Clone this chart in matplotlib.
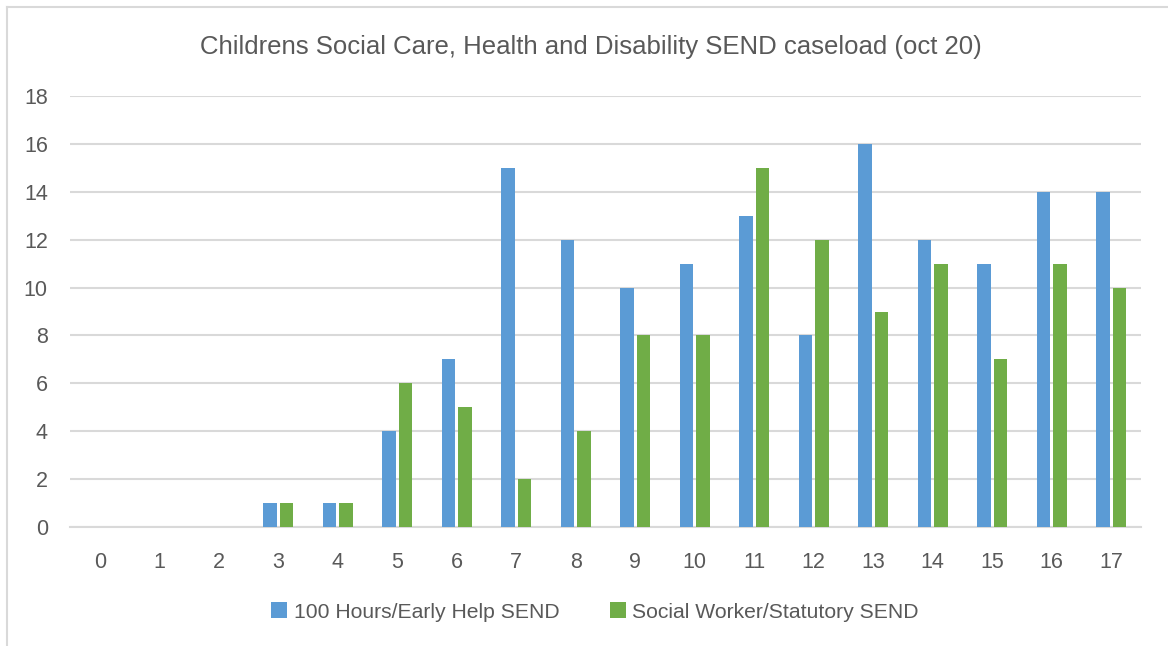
import matplotlib
matplotlib.use("Agg")
import matplotlib.pyplot as plt
import numpy as np
from matplotlib.lines import Line2D

categories = [str(i) for i in range(18)]
early_help = [0, 0, 0, 1, 1, 4, 7, 15, 12, 10, 11, 13, 8, 16, 12, 11, 14, 14]
statutory = [0, 0, 0, 1, 1, 6, 5, 2, 4, 8, 8, 15, 12, 9, 11, 7, 11, 10]
series_names = ["100 Hours/Early Help SEND", "Social Worker/Statutory SEND"]
title = "Childrens Social Care, Health and Disability SEND caseload (oct 20)"
yticks = list(range(0, 19, 2))

BLUE = "#5B9BD5"
GREEN = "#70AD47"
TXT = "#595959"
GRID = "#D9D9D9"

plt.rcParams['font.family'] = ['Liberation Sans', 'DejaVu Sans']

W, H = 1168, 646
fig = plt.figure(figsize=(W / 100, H / 100), dpi=100)
ax = fig.add_axes([70 / W, 1 - 527 / H, (1141 - 70) / W, (527 - 96) / H])

x = np.arange(len(categories))
bw = 0.228
off = 0.142
ax.bar(x - off, early_help, width=bw, color=BLUE, label=series_names[0], zorder=3)
ax.bar(x + off, statutory, width=bw, color=GREEN, label=series_names[1], zorder=3)

ax.set_xlim(-0.5, len(categories) - 0.5)
ax.set_ylim(0, 18)
ax.set_yticks(yticks)
ax.set_xticks(x)
ax.set_xticklabels(categories)
ax.yaxis.grid(True, color=GRID, linewidth=1.5, zorder=0)
ax.set_axisbelow(True)
for s in ["top", "right", "left"]:
    ax.spines[s].set_visible(False)
ax.spines["bottom"].set_color(GRID)
ax.spines["bottom"].set_linewidth(1.5)
ax.tick_params(axis="both", length=0, colors=TXT, labelsize=15.5)
ax.tick_params(axis="x", pad=18)
ax.tick_params(axis="y", pad=16)

fig.text(591 / W, 1 - 47 / H, title, ha="center", va="center", fontsize=18.5, color=TXT)

leg = fig.legend(loc="center", bbox_to_anchor=(595 / W, 1 - 612 / H), ncol=2, frameon=False,
                 fontsize=15.2, labelcolor=TXT, handlelength=0.75, handleheight=0.75,
                 handletextpad=0.3, columnspacing=2.4)

# chart border (left and top visible)
fig.add_artist(Line2D([7 / W, 7 / W], [0, 1 - 7 / H], transform=fig.transFigure, color=GRID, linewidth=1.5))
fig.add_artist(Line2D([7 / W, 1], [1 - 7 / H, 1 - 7 / H], transform=fig.transFigure, color=GRID, linewidth=1.5))

fig.savefig("out.png", dpi=100, facecolor="white")
